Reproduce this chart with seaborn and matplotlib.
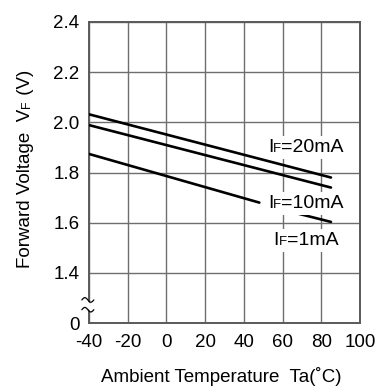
import numpy as np
import pandas as pd
import seaborn as sns
import matplotlib
matplotlib.use("Agg")
import matplotlib.pyplot as plt
from matplotlib.offsetbox import TextArea, HPacker, AnnotationBbox

# ---- data ----
series_names = ["IF=20mA", "IF=10mA", "IF=1mA"]
temp_20 = [-40, 85]
vf_20 = [2.032, 1.780]
temp_10 = [-40, 85]
vf_10 = [1.989, 1.740]
temp_1a = [-40, 48]
vf_1a = [1.874, 1.680]
temp_1b = [67, 85]
vf_1b = [1.638, 1.603]

x_ticks = [-40, -20, 0, 20, 40, 60, 80, 100]
y_ticks = [1.2, 1.4, 1.6, 1.8, 2.0, 2.2, 2.4]
y_ticklabels = ["0", "1.4", "1.6", "1.8", "2.0", "2.2", "2.4"]

sns.set_theme(style="white")
plt.rcParams['font.family'] = ['Liberation Sans', 'DejaVu Sans']

FS = 13.5

fig = plt.figure(figsize=(3.77, 3.87), dpi=100)
ax = fig.add_axes([89/377, 64/387, 271/377, 301/387])

rows = []
for name, xs, ys, seg in [("20", temp_20, vf_20, "a"), ("10", temp_10, vf_10, "a"),
                          ("1", temp_1a, vf_1a, "a"), ("1", temp_1b, vf_1b, "b")]:
    for x, y in zip(xs, ys):
        rows.append({"T": x, "VF": y, "grp": name + seg})
df = pd.DataFrame(rows)
sns.lineplot(data=df, x="T", y="VF", units="grp", estimator=None, color="black",
             linewidth=1.9, ax=ax, legend=False, zorder=3)

ax.set_xlim(-40, 100)
ax.set_ylim(1.2, 2.4)
ax.set_xticks(x_ticks)
ax.set_xticklabels([str(v) for v in x_ticks])
ax.set_yticks(y_ticks)
ax.set_yticklabels(y_ticklabels)
ax.grid(True, color="#6e6e6e", linewidth=1.0, zorder=1)
ax.set_axisbelow(True)
for s in ax.spines.values():
    s.set_color("#5a5a5a")
    s.set_linewidth(1.4)
ax.tick_params(axis="both", length=0, labelsize=FS, colors="black")
ax.tick_params(axis="y", pad=7)
ax.tick_params(axis="x", pad=8)
ax.set_xlabel("")
ax.set_ylabel("")

# labels with small "F"
def label(x, y, rest):
    big = dict(size=14, color="black", family="Liberation Sans")
    small = dict(size=9.5, color="black", family="Liberation Sans")
    pk = HPacker(children=[TextArea("I", textprops=big), TextArea("F", textprops=small),
                           TextArea(rest, textprops=big)], align="baseline", pad=0, sep=0)
    ab = AnnotationBbox(pk, (x, y), xycoords="data", frameon=True, pad=0.2,
                        bboxprops=dict(facecolor="white", edgecolor="none"), zorder=4)
    ax.add_artist(ab)

label(72, 1.900, "=20mA")
label(72, 1.678, "=10mA")
label(72, 1.529, "=1mA")

# axis break marks
t = np.linspace(0, 1, 40)
xw = -43.7 + 6.2 * t
ya, yb = 1.292, 1.253
ax.fill_between(xw, yb + 0.009 * np.sin(2 * np.pi * t) + 0.005,
                ya + 0.009 * np.sin(2 * np.pi * t) - 0.005,
                color="white", clip_on=False, zorder=5, lw=0)
for yc in [ya, yb]:
    yw = yc + 0.009 * np.sin(2 * np.pi * t)
    ax.plot(xw, yw, color="black", lw=0.9, clip_on=False, zorder=6)

# x label
fig.text(221.5/377, 4.5/387, "Ambient Temperature  Ta(˚C)", ha="center", va="baseline",
         fontsize=FS, color="black")

# y label with small F, built piecewise (rotated 90, reading bottom to top)
fig.canvas.draw()
r = fig.canvas.get_renderer()
xb = 30/377
y0 = 387 - 268
t1 = fig.text(xb, y0/387, "Forward Voltage  V", rotation=90, ha="left", va="baseline",
              fontsize=FS, color="black", rotation_mode="anchor")
e1 = t1.get_window_extent(r)
t2 = fig.text(xb, (e1.y1 + 0.5)/387, "F", rotation=90, ha="left", va="baseline",
              fontsize=9, color="black", rotation_mode="anchor")
e2 = t2.get_window_extent(r)
t3 = fig.text(xb, (e2.y1 + 0.5)/387, " (V)", rotation=90, ha="left", va="baseline",
              fontsize=FS, color="black", rotation_mode="anchor")

fig.savefig("out.png", dpi=100)
